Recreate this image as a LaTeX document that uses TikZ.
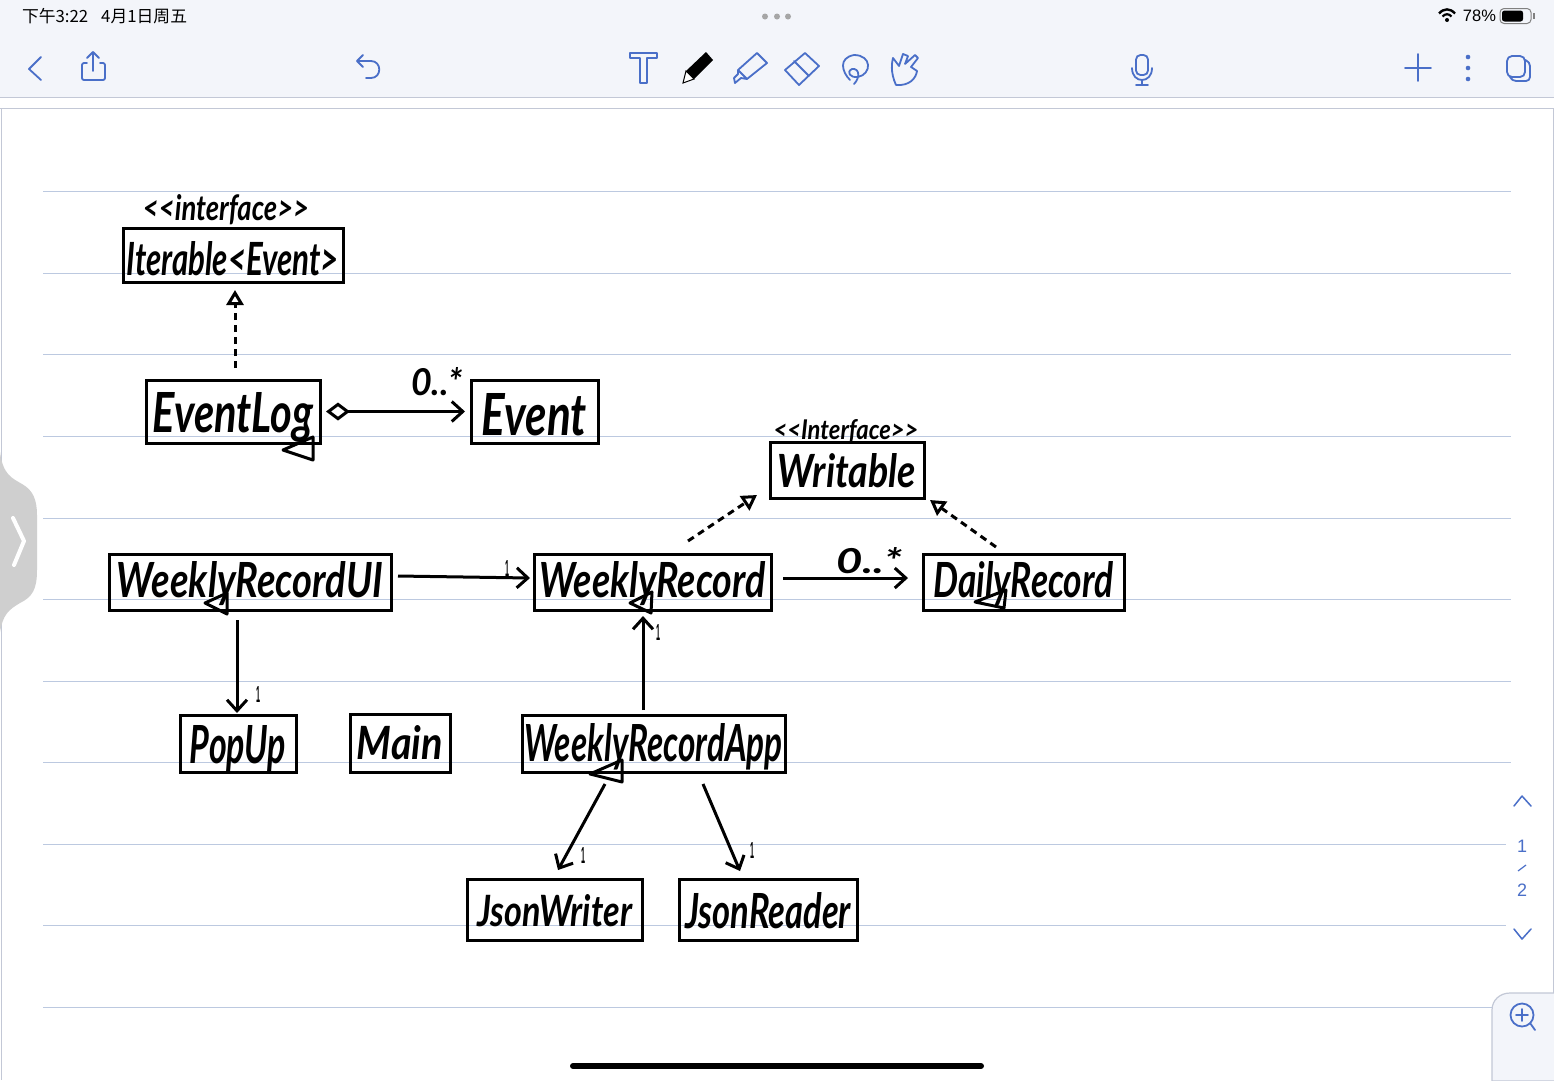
\documentclass[tikz,border=0pt]{standalone}
\usepackage{graphicx}
\usepackage{fontspec}
\setmainfont{Liberation Sans}
\newfontfamily\handfont{Lato}
\newfontfamily\cjk{Noto Sans CJK SC}
\usetikzlibrary{arrows.meta}
\definecolor{barbg}{HTML}{F3F5FA}
\definecolor{barline}{HTML}{C3C8D6}
\definecolor{ruleline}{HTML}{BCC9E0}
\definecolor{iconblue}{HTML}{4A6FC8}
\definecolor{tabgray}{HTML}{CFCFCF}
\tikzset{
	classbox/.style={draw=black,line width=3pt,inner sep=0pt,outer sep=0pt,fill=none},
	hand/.style={inner sep=0pt,outer sep=0pt},
	assoc/.style={line width=3pt,-{Straight Barb[length=11pt,width=20pt,line width=3pt]}},
	depend/.style={line width=3pt,dash pattern=on 7pt off 5pt,-{Triangle[open,length=15pt,width=17pt,line width=3pt,fill=white]}},
	icon/.style={draw=iconblue,line width=1.8pt,line cap=round,line join=round},
	thinicon/.style={draw=iconblue,line width=1.5pt,line cap=round,line join=round},
	ui/.style={inner sep=0pt,outer sep=0pt},
	pagenum/.style={ui,text=iconblue,font=\fontsize{18}{18}\selectfont},
}
\begin{document}
\begin{tikzpicture}[x=1pt,y=-1pt]
\useasboundingbox (0,0) rectangle (1554,1080);
\fill[white] (0,0) rectangle (1554,1080);
\fill[barbg] (0,0) rectangle (1554,97);
\draw[barline,line width=1.5pt] (0,97.5) -- (1554,97.5);
\draw[barline,line width=1.5pt] (0,108.5) -- (1554,108.5);
\draw[barline,line width=1pt] (1,108) -- (1,470);
\draw[barline,line width=1pt] (1,620) -- (1,1080);
\draw[barline,line width=1pt] (1553,108) -- (1553,1080);
\foreach \y in {191,273,354,436,518,599,681,762} {
	\draw[ruleline,line width=1pt] (43,\y) -- (1511,\y);
}
\foreach \y in {844,925} {
	\draw[ruleline,line width=1pt] (43,\y) -- (1506,\y);
}
\draw[ruleline,line width=1pt] (43,1007) -- (1492,1007);
\fill[tabgray] (0,452) .. controls (3,475) and (12,478) .. (22,484) .. controls (33,490) and (37,500) .. (37,515) -- (37,570) .. controls (37,590) and (32,597) .. (20,603) .. controls (8,610) and (3,615) .. (0,632) -- cycle;
\draw[white,line width=4pt,line cap=round,line join=round] (13,518) -- (24,541) -- (14,565);
\node[ui,anchor=west,font=\cjk\fontsize{16.8}{16.8}\selectfont] (clock) at (22,16) {下午3:22\hspace{13pt}4月1日周五};
\foreach \x in {765,777,788} {
	\fill[gray!70] (\x,16.5) circle (3);
}
\node[ui,anchor=east,font=\fontsize{16.5}{16.5}\selectfont] (battery) at (1496,16) {78\%};
\draw[black,line width=2.4pt] (1439,13.5) .. controls (1444,8) and (1450,8) .. (1455,13.5);
\draw[black,line width=2.2pt] (1442.5,16.5) .. controls (1445,13.5) and (1449,13.5) .. (1451.5,16.5);
\fill[black] (1447,20) circle (2);
\draw[gray,line width=1pt,rounded corners=4pt] (1500,8.5) rectangle (1531,23.5);
\fill[black,rounded corners=2.5pt] (1502,10.5) rectangle (1523,21.5);
\fill[gray] (1533,13) rectangle (1534.5,19);
\draw[icon] (41,57) -- (29,69) -- (41,80);
\draw[icon,rounded corners=2pt] (87,63) -- (82,63) -- (82,80) -- (105,80) -- (105,63) -- (100,63);
\draw[icon] (93,71) -- (93,52) (87,58) -- (93,52) -- (99,58);
\draw[icon] (363,55) -- (357,61) -- (363,67) (357,61) -- (371,61) .. controls (382,61) and (382,78) .. (371,78) -- (366,78);
\draw[icon] (630,53) -- (657,53) -- (657,58) -- (647,58) -- (647,83) -- (640,83) -- (640,58) -- (630,58) -- cycle;
\fill[black] (706,52) -- (713,60) -- (694,79) -- (686,71) -- cycle;
\draw[black,fill=white,line width=1pt] (686,71) -- (694,79) -- (683,83) -- cycle;
\draw[icon] (757,53) -- (767,63) -- (747,79) -- (741,78) -- (735,83) -- (734,78) -- (738,74) -- (738,70) -- cycle (738,70) -- (747,79);
\draw[icon] (805,53) -- (819,66) -- (799,85) -- (785,70) -- cycle (794,61) -- (809,76);
\draw[icon] (850,80) .. controls (842,72) and (838,58) .. (854,55) .. controls (872,55) and (872,74) .. (858,77) .. controls (850,78) and (846,72) .. (852,69) .. controls (860,68) and (860,78) .. (854,84);
\draw[icon] (896,85) .. controls (890,72) and (892,62) .. (893,58) -- (899,66) -- (903,54) -- (908,56) -- (905,64) -- (915,55) -- (918,58) -- (911,67) -- (917,71) .. controls (916,78) and (910,86) .. (896,85);
\draw[icon,rounded corners=4.5pt] (1136,55) rectangle (1148,75);
\draw[icon] (1132,68) .. controls (1132,84) and (1152,84) .. (1152,68);
\draw[icon] (1142,80) -- (1142,85) (1136,85) -- (1148,85);
\draw[icon] (1405,68) -- (1431,68) (1418,54) -- (1418,81);
\foreach \y in {57,68,79} {
	\fill[iconblue] (1468,\y) circle (2.3);
}
\draw[icon,rounded corners=5pt] (1507,56) rectangle (1525,77);
\draw[icon,rounded corners=4pt] (1525,60) -- (1530,62) -- (1530,81) -- (1512,81) -- (1510,77);
\draw[thinicon] (1514,806) -- (1522,796) -- (1531,806);
\draw[thinicon] (1514,929) -- (1522,939) -- (1531,929);
\node[pagenum] (pagenow) at (1522,846) {1};
\node[pagenum] (pagelast) at (1522,890) {2};
\draw[iconblue,line width=1.2pt] (1518,871) -- (1526,865);
\draw[barline,fill=barbg,line width=1.2pt] (1492,1081) -- (1492,1010) .. controls (1492,1000) and (1500,993) .. (1510,993) -- (1555,993) -- (1555,1081) -- cycle;
\draw[icon] (1522,1015) circle (11.5) (1516,1015) -- (1528,1015) (1522,1009) -- (1522,1021) (1530,1023) -- (1535,1030);
\draw[black,line width=6pt,line cap=round] (573,1066) -- (981,1066);
\foreach \nm/\x/\y/\w/\h/\tw/\th/\dy/\txt in {
	iterable/233/255/220/54/212/34/4/Iterable<Event>,
	eventlog/233/411.5/174/63/160/40/6/EventLog,
	event/534.5/411.5/127/63/105/42/3/Event,
	writable/847/470/154/56/138/34/1/Writable,
	weeklyui/250/582/282/56/266/36/2/WeeklyRecordUI,
	weekly/652.5/582/237/56/226/36/2/WeeklyRecord,
	daily/1023.5/582/201/56/180/36/2/DailyRecord,
	popup/238/743.5/116/57/96/38/5/PopUp,
	mainclass/400/743/100/58/86/34/0/Main,
	weeklyapp/653.5/743.5/263/57/258/38/3/WeeklyRecordApp,
	jsonwriter/554.5/909.5/175/61/155/32/1/JsonWriter,
	jsonreader/768/909.5/178/61/166/36/1/JsonReader} {
	\node[classbox,minimum width=\w pt,minimum height=\h pt] (\nm) at (\x,\y) {\raisebox{-\dy pt}[\height][\depth]{\resizebox{\tw pt}{\th pt}{\handfont\bfseries\itshape \txt}}};
}
\foreach \nm/\x/\y/\tw/\th/\txt in {
	iterface/226/210/166/26/<<interface>>,
	writeface/846/431/145/20/<<Interface>>,
	eventmany/437/382/52/28/0..*,
	dailymany/869/561/66/26/0..*} {
	\node[hand] (\nm) at (\x,\y) {\resizebox{\tw pt}{\th pt}{\handfont\bfseries\itshape \txt}};
}
\foreach \nm/\x/\y in {
	oneweekly/507/568,
	oneapp/658/632,
	onepopup/258/694,
	onewriter/583/855,
	onereader/752/850} {
	\node[hand] (\nm) at (\x,\y) {\resizebox{4pt}{16pt}{\bfseries 1}};
}
\draw[depend] ([xshift=2pt,yshift=12pt]eventlog.north) -- ([xshift=2pt,yshift=-8pt]iterable.south);
\draw[assoc,{Diamond[open,length=24pt,width=18pt,line width=3pt]}-{Straight Barb[length=11pt,width=20pt,line width=3pt]}] ([xshift=6pt]eventlog.east) -- ([xshift=-6pt]event.west);
\draw[assoc] ([xshift=7pt,yshift=6pt]weeklyui.east) -- ([xshift=-4pt,yshift=4pt]weekly.west);
\draw[assoc] ([xshift=12pt,yshift=4pt]weekly.east) -- ([xshift=-15pt,yshift=4pt]daily.west);
\draw[depend] ([xshift=35.5pt,yshift=13pt]weekly.north) -- ([xshift=-13pt,yshift=3pt]writable.south west);
\draw[depend] ([xshift=-27.5pt,yshift=7pt]daily.north) -- ([xshift=6pt,yshift=-2pt]writable.south east);
\draw[assoc] ([xshift=-10.5pt,yshift=5pt]weeklyapp.north) -- ([xshift=-9.5pt,yshift=-6pt]weekly.south);
\draw[assoc] ([xshift=-13pt,yshift=-10pt]weeklyui.south) -- ([xshift=-1pt,yshift=2pt]popup.north);
\draw[assoc] ([xshift=-48.5pt,yshift=-12pt]weeklyapp.south) -- ([xshift=3.5pt,yshift=9pt]jsonwriter.north);
\draw[assoc] ([xshift=49.5pt,yshift=-12pt]weeklyapp.south) -- ([xshift=-28pt,yshift=8pt]jsonreader.north);
\foreach \xa/\ya/\xb/\yb/\xc/\yc in {
	313/437/283/450/313/460,
	227/593/205/603/227/614,
	652/592/630/603/651/613,
	1006/590/975/602/1004/608,
	622/760/590/774/622/782} {
	\draw[black,line width=3pt,line join=round] (\xa,\ya) -- (\xb,\yb) -- (\xc,\yc) -- cycle;
}
\end{tikzpicture}
\end{document}
